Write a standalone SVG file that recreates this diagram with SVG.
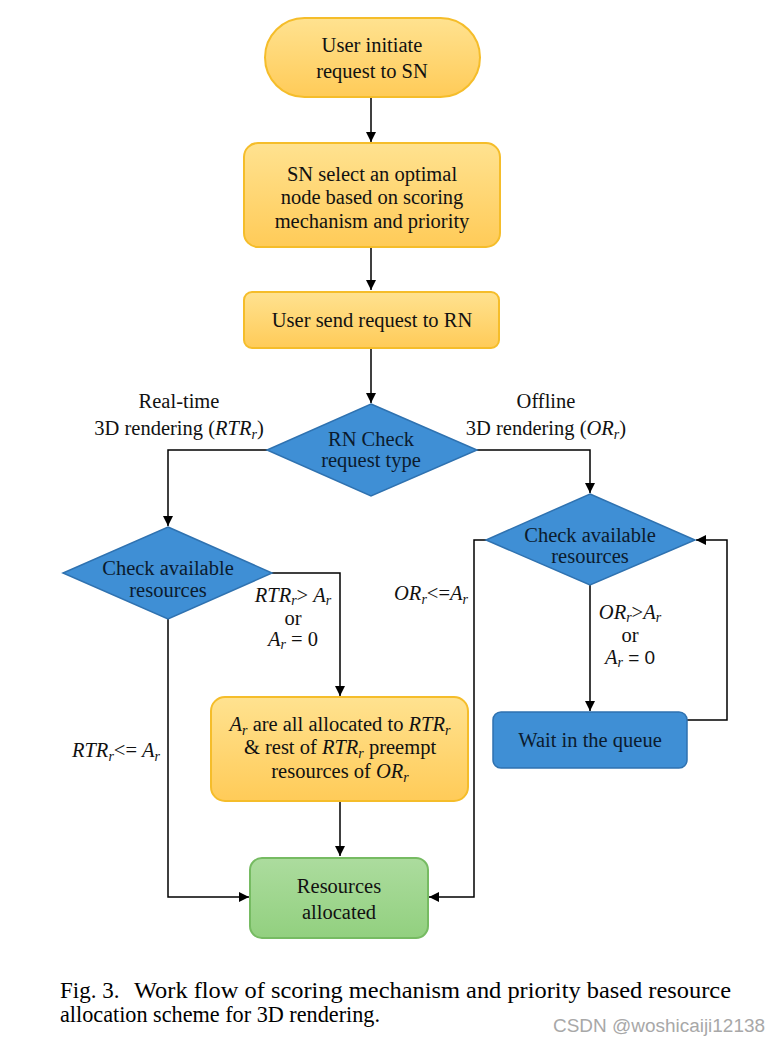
<svg xmlns="http://www.w3.org/2000/svg" width="781" height="1045" viewBox="0 0 781 1045">
<defs>
<linearGradient id="gy" x1="0" y1="0" x2="0" y2="1">
<stop offset="0" stop-color="#ffe290"/>
<stop offset="1" stop-color="#ffcb58"/>
</linearGradient>
<linearGradient id="gg" x1="0" y1="0" x2="0" y2="1">
<stop offset="0" stop-color="#acdc9e"/>
<stop offset="1" stop-color="#92d07f"/>
</linearGradient>
<marker id="ah" viewBox="0 0 10 10" refX="10" refY="5" markerWidth="10" markerHeight="10" markerUnits="userSpaceOnUse" orient="auto">
<path d="M0,0 L10,5 L0,10 Z" fill="#000"/>
</marker>
<style>
.y{fill:url(#gy);stroke:#f5bd2a;stroke-width:2}
.b{fill:#3f8fd5;stroke:#2f72b0;stroke-width:1.5}
.g{fill:url(#gg);stroke:#76bb62;stroke-width:2}
.t{font-size:20.5px;fill:#111;text-anchor:middle}
.tb{font-size:20.5px;fill:#0b1b2e;text-anchor:middle}
.l{font-size:20.5px;fill:#111;text-anchor:middle}
.i{font-style:italic}
.s{font-style:italic;font-size:14px}
.c{stroke:#000;stroke-width:1.5;fill:none}
.cap{font-size:23px;fill:#000}
</style>
</defs>
<rect width="781" height="1045" fill="#fff"/>

<g id="connectors">
<path class="c" d="M371,97 V142" marker-end="url(#ah)"/>
<path class="c" d="M371,247 V290" marker-end="url(#ah)"/>
<path class="c" d="M371,348 V403" marker-end="url(#ah)"/>
<path class="c" d="M267,450 H168 V526" marker-end="url(#ah)"/>
<path class="c" d="M476,450 H590 V493" marker-end="url(#ah)"/>
<path class="c" d="M272,573 H340 V696" marker-end="url(#ah)"/>
<path class="c" d="M168,619 V897 H249" marker-end="url(#ah)"/>
<path class="c" d="M340,801 V856" marker-end="url(#ah)"/>
<path class="c" d="M486,540 H474 V897 H429" marker-end="url(#ah)"/>
<path class="c" d="M590,585 V711" marker-end="url(#ah)"/>
<path class="c" d="M687,720 H727 V540 H696" marker-end="url(#ah)"/>
</g>

<g font-family="'Liberation Serif', 'Times New Roman', Tinos, Times, serif">
<g id="labels">
<text class="l" x="179" y="408">Real-time</text>
<text class="l" x="179" y="435">3D rendering (<tspan class="i">RTR</tspan><tspan class="s" dy="4">r</tspan><tspan dy="-4">)</tspan></text>
<text class="l" x="546" y="408">Offline</text>
<text class="l" x="546" y="435">3D rendering (<tspan class="i">OR</tspan><tspan class="s" dy="4">r</tspan><tspan dy="-4">)</tspan></text>
<text class="l" x="293" y="602"><tspan class="i">RTR</tspan><tspan class="s" dy="3">r</tspan><tspan dy="-3">&gt; </tspan><tspan class="i">A</tspan><tspan class="s" dy="3">r</tspan></text>
<text class="l" x="293" y="625">or</text>
<text class="l" x="293" y="646"><tspan class="i">A</tspan><tspan class="s" dy="3">r</tspan><tspan dy="-3"> = 0</tspan></text>
<text class="l" x="116" y="757"><tspan class="i">RTR</tspan><tspan class="s" dy="4">r</tspan><tspan dy="-4">&lt;= </tspan><tspan class="i">A</tspan><tspan class="s" dy="4">r</tspan></text>
<text class="l" x="431" y="600"><tspan class="i">OR</tspan><tspan class="s" dy="4">r</tspan><tspan dy="-4">&lt;=</tspan><tspan class="i">A</tspan><tspan class="s" dy="4">r</tspan></text>
<text class="l" x="630" y="619"><tspan class="i">OR</tspan><tspan class="s" dy="3">r</tspan><tspan dy="-3">&gt;</tspan><tspan class="i">A</tspan><tspan class="s" dy="3">r</tspan></text>
<text class="l" x="630" y="642">or</text>
<text class="l" x="630" y="664"><tspan class="i">A</tspan><tspan class="s" dy="3">r</tspan><tspan font-family="'Liberation Sans', Arial, sans-serif" dy="-3" font-size="19"> = 0</tspan></text>
</g>

<g id="n1">
<rect class="y" x="265" y="18" width="215" height="79" rx="39.5"/>
<text class="t" x="372" y="52">User initiate</text>
<text class="t" x="372" y="78">request to SN</text>
</g>
<g id="n2">
<rect class="y" x="244" y="143" width="256" height="104" rx="14"/>
<text class="t" x="372" y="181">SN select an optimal</text>
<text class="t" x="372" y="204">node based on scoring</text>
<text class="t" x="372" y="228">mechanism and priority</text>
</g>
<g id="n3">
<rect class="y" x="244" y="292" width="255" height="56" rx="8"/>
<text class="t" x="372" y="327">User send request to RN</text>
</g>
<g id="d1">
<polygon class="b" points="371,404 477,450 371,496 267,450"/>
<text class="tb" x="371" y="446">RN Check</text>
<text class="tb" x="371" y="467">request type</text>
</g>
<g id="d2">
<polygon class="b" points="590,494 695,540 590,585 486,540"/>
<text class="tb" x="590" y="542">Check available</text>
<text class="tb" x="590" y="563">resources</text>
</g>
<g id="d3">
<polygon class="b" points="168,527 272,573 168,619 63,573"/>
<text class="tb" x="168" y="575">Check available</text>
<text class="tb" x="168" y="597">resources</text>
</g>
<g id="n4">
<rect class="y" x="211" y="697" width="257" height="104" rx="14"/>
<text class="t" x="340" y="731"><tspan class="i">A</tspan><tspan class="s" dy="4">r</tspan><tspan dy="-4"> are all allocated to </tspan><tspan class="i">RTR</tspan><tspan class="s" dy="4">r</tspan></text>
<text class="t" x="340" y="754">&amp; rest of <tspan class="i">RTR</tspan><tspan class="s" dy="4">r</tspan><tspan dy="-4"> preempt</tspan></text>
<text class="t" x="340" y="778">resources of <tspan class="i">OR</tspan><tspan class="s" dy="4">r</tspan></text>
</g>
<g id="n5">
<rect class="b" x="493" y="712" width="194" height="56" rx="8"/>
<text class="tb" x="590" y="747">Wait in the queue</text>
</g>
<g id="n6">
<rect class="g" x="250" y="858" width="178" height="80" rx="12"/>
<text class="t" x="339" y="893">Resources</text>
<text class="t" x="339" y="919">allocated</text>
</g>

<g id="caption">
<text class="cap" x="60" y="998">Fig. 3.</text>
<text class="cap" x="134" y="998" textLength="597" lengthAdjust="spacingAndGlyphs">Work flow of scoring mechanism and priority based resource</text>
<text class="cap" x="60" y="1022" textLength="320" lengthAdjust="spacingAndGlyphs">allocation scheme for 3D rendering.</text>
</g>
</g>
<text x="553" y="1032" font-family="'Liberation Sans', Arial, sans-serif" font-size="18" fill="#a8a8a8" textLength="212" lengthAdjust="spacingAndGlyphs">CSDN @woshicaiji12138</text>
</svg>
